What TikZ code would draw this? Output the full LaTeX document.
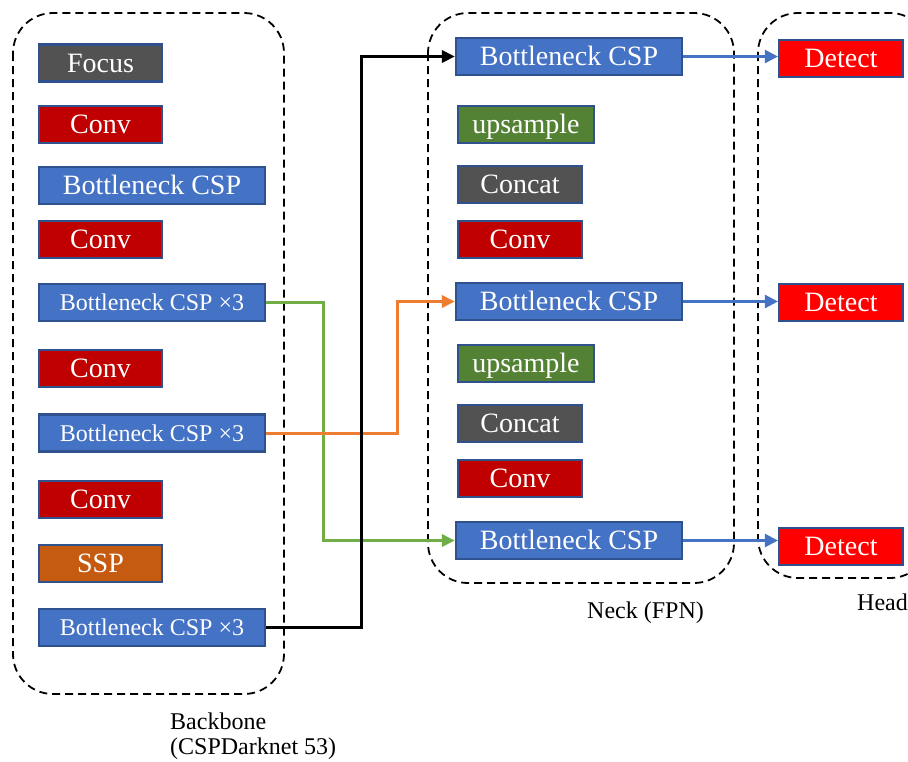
\documentclass[tikz,border=0pt]{standalone}
\usepackage{fontspec}
\setmainfont{Liberation Serif}
\usetikzlibrary{arrows.meta}
\definecolor{cblue}{HTML}{4472C4}
\definecolor{cborder}{HTML}{2F528F}
\definecolor{cgray}{HTML}{525252}
\definecolor{cconv}{HTML}{C00000}
\definecolor{cup}{HTML}{548235}
\definecolor{cssp}{HTML}{C55A11}
\definecolor{cdet}{HTML}{FF0000}
\definecolor{cgreen}{HTML}{70AD47}
\definecolor{corange}{HTML}{ED7D31}
\begin{document}
\begin{tikzpicture}[x=1pt,y=-1pt,
  box/.style={draw=cborder, line width=2.2pt, inner sep=0pt, text=white,
    font=\fontsize{28}{30}\selectfont, text height=18.5pt, text depth=0pt,
    minimum height=37pt},
  small/.style={box, font=\fontsize{24}{26}\selectfont, text height=16pt},
  shortbox/.style={box, minimum width=123pt},
  longbox/.style={box, minimum width=226pt},
  upbox/.style={box, minimum width=136pt, fill=cup},
  detbox/.style={box, minimum width=124pt, fill=cdet},
  group/.style={draw=black, line width=1.8pt, dash pattern=on 8pt off 5pt, rounded corners=40pt},
  lbl/.style={font=\fontsize{24}{26}\selectfont, inner sep=0pt},
  link/.style={line width=3pt, -{Triangle[length=13pt,width=12pt]}},
  blink/.style={line width=2.5pt, draw=cblue, -{Triangle[length=13pt,width=13pt]}, color=cblue}
]
\useasboundingbox (0,0) rectangle (908,761);

% group frames
\draw[group] (13,13) rectangle (284,694);
\draw[group] (428,13) rectangle (734,583);
\begin{scope}
  \clip (0,0) rectangle (908,761);
  \draw[group] (758,13) rectangle (930,578);
\end{scope}

% backbone
\node[shortbox, fill=cgray] (focus) at (100.5,63) {Focus};
\node[shortbox, fill=cconv] (bconv1) at (100.5,124.5) {Conv};
\node[longbox, fill=cblue] (bcsp1) at (152,185.5) {Bottleneck CSP};
\node[shortbox, fill=cconv] (bconv2) at (100.5,239.5) {Conv};
\node[longbox, small, fill=cblue] (bcspa) at (152,302.5) {Bottleneck CSP ×3};
\node[shortbox, fill=cconv] (bconv3) at (100.5,368.5) {Conv};
\node[longbox, small, fill=cblue] (bcspb) at (152,433) {Bottleneck CSP ×3};
\node[shortbox, fill=cconv] (bconv4) at (100.5,499.5) {Conv};
\node[shortbox, fill=cssp] (ssp) at (100.5,563.5) {SSP};
\node[longbox, small, fill=cblue] (bcspc) at (152,627.5) {Bottleneck CSP ×3};

% neck
\node[longbox, fill=cblue] (nb1) at (569,56.5) {Bottleneck CSP};
\node[upbox] (up1) at (526,124.5) {upsample};
\node[box, minimum width=124pt, fill=cgray] (cat1) at (520,184.5) {Concat};
\node[box, minimum width=124pt, fill=cconv] (nconv1) at (520,239.5) {Conv};
\node[longbox, fill=cblue] (nb2) at (569,301.5) {Bottleneck CSP};
\node[upbox] (up2) at (526,363.5) {upsample};
\node[box, minimum width=124pt, fill=cgray] (cat2) at (520,423.5) {Concat};
\node[box, minimum width=124pt, fill=cconv] (nconv2) at (520,478.5) {Conv};
\node[longbox, fill=cblue] (nb3) at (569,540.5) {Bottleneck CSP};

% head
\node[detbox] (det1) at (841,58.5) {Detect};
\node[detbox] (det2) at (841,302.5) {Detect};
\node[detbox] (det3) at (841,546.5) {Detect};

% connectors
\draw[link, cgreen] (bcspa.east) -- ++(57,0) |- (nb3.west);
\draw[link, corange] (bcspb.east) -- ++(131,0) |- (nb2.west);
\draw[link, black, line width=3.2pt] (bcspc.east) -- ++(95,0) |- (nb1.west);
\draw[blink] (nb1.east) -- (nb1.east -| det1.west);
\draw[blink] (nb2.east) -- (nb2.east -| det2.west);
\draw[blink] (nb3.east) -- (nb3.east -| det3.west);

% labels
\node[lbl, anchor=base west] (lback) at (170,729) {Backbone};
\node[lbl, anchor=base west] (lback2) at (170,754) {(CSPDarknet 53)};
\node[lbl, anchor=base] (lneck) at (645.5,618) {Neck (FPN)};
\node[lbl, anchor=base west] (lhead) at (857,610) {Head};
\end{tikzpicture}
\end{document}
